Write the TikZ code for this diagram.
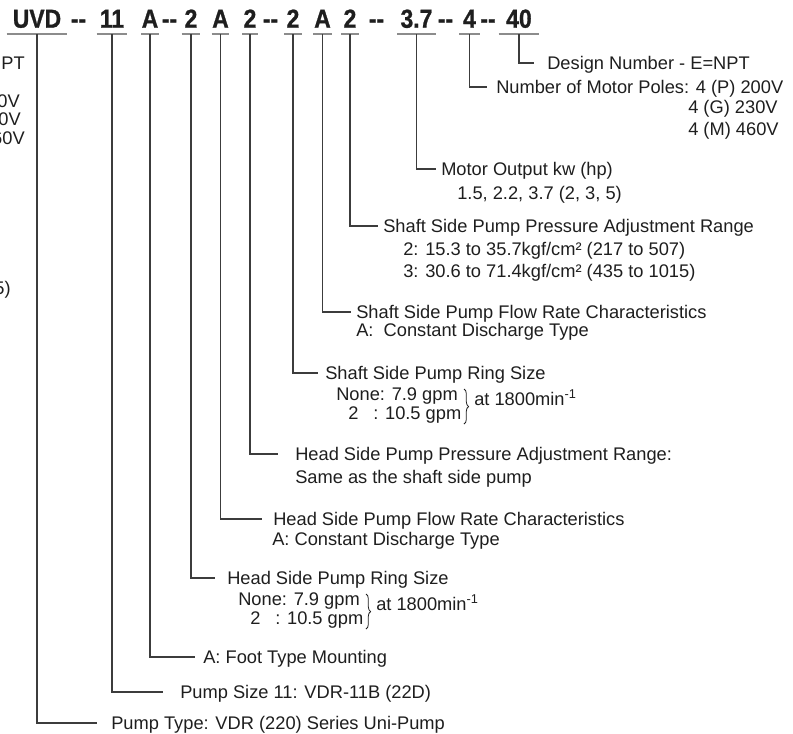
\documentclass[tikz,border=0pt]{standalone}
\usepackage{fontspec}
\setmainfont{Liberation Sans}
\newfontfamily\partfont{Liberation Sans}[FakeStretch=0.88, BoldFeatures={FakeBold=1}]
\usetikzlibrary{decorations.pathreplacing}
\definecolor{inkc}{HTML}{1E1E1E}
\definecolor{linec}{HTML}{3C3C3C}
\definecolor{barc}{HTML}{8C8C8C}
\tikzset{
  seg/.style={anchor=base, inner xsep=0pt, inner ysep=4.7pt, minimum width=#1,
    text height=13.3pt, text depth=0pt, text=inkc,
    font=\partfont\bfseries\fontsize{19.5}{20}\selectfont},
  hyph/.style={anchor=base, inner sep=0pt, text=inkc,
    font=\partfont\bfseries\fontsize{19.5}{20}\selectfont},
  desc/.style={anchor=west, inner sep=0pt, text height=9.5pt, text depth=0pt,
    text=inkc, font=\fontsize{13.7}{16.3}\selectfont},
  more/.style={anchor=base west, inner sep=0pt, align=left, text=inkc,
    font=\fontsize{13.7}{16.3}\selectfont},
  cut/.style={anchor=base east, inner sep=0pt, text=inkc,
    font=\fontsize{13.7}{16.3}\selectfont},
  bar/.style={draw=barc, line width=1.5pt},
  link/.style={draw=linec, line width=0.8pt},
  curly/.style={draw=inkc, line width=0.6pt, decorate, decoration={brace, amplitude=3.5pt}}
}
\begin{document}
\begin{tikzpicture}[x=0.75pt,y=0.75pt,yscale=-1,xscale=1]
\useasboundingbox (0,0) rectangle (793,733);

%Model code
\node[seg=45pt] (p1) at (37,27.7) {UVD};
\node[hyph] (h1) at (78.5,27.7) {-{}-};
\node[seg=22.5pt] (p2) at (112,27.7) {11};
\node[seg=12pt] (p3) at (150,27.7) {A};
\node[hyph] (h2) at (169.5,27.7) {-{}-};
\node[seg=13.5pt] (p4) at (191,27.7) {2};
\node[seg=12.75pt] (p5) at (220.5,27.7) {A};
\node[seg=11.25pt] (p6) at (250,27.7) {2};
\node[hyph] (h3) at (270.5,27.7) {-{}-};
\node[seg=12.75pt] (p7) at (293,27.7) {2};
\node[seg=13.5pt] (p8) at (322.5,27.7) {A};
\node[seg=12.75pt] (p9) at (350,27.7) {2};
\node[hyph] (h4) at (376.5,27.7) {-{}-};
\node[seg=28.5pt] (p10) at (416.5,27.7) {3.7};
\node[hyph] (h5) at (445.5,27.7) {-{}-};
\node[seg=15pt] (p11) at (469.5,27.7) {4};
\node[hyph] (h6) at (488,27.7) {-{}-};
\node[seg=30pt] (p12) at (519,27.7) {40};

%Underlines
\foreach \p in {p1,p2,p3,p4,p5,p6,p7,p8,p9,p10,p11,p12}
  \draw[bar] (\p.south west) -- (\p.south east);

%Descriptions
\node[desc] (d1) at (111,723) {Pump Type: VDR (220) Series Uni-Pump};
\node[desc] (d2) at (180,692) {Pump Size 11: VDR-11B (22D)};
\node[desc] (d3) at (203,657) {A: Foot Type Mounting};
\node[desc] (d4) at (227,578) {Head Side Pump Ring Size};
\node[desc] (d5) at (273,519) {Head Side Pump Flow Rate Characteristics};
\node[desc] (d6) at (295,454) {Head Side Pump Pressure Adjustment Range:};
\node[desc] (d7) at (325,373) {Shaft Side Pump Ring Size};
\node[desc] (d8) at (356,312) {Shaft Side Pump Flow Rate Characteristics};
\node[desc] (d9) at (383,226) {Shaft Side Pump Pressure Adjustment Range};
\node[desc] (d10) at (441,169) {Motor Output kw (hp)};
\node[desc] (d11) at (496,87) {Number of Motor Poles: 4 (P) 200V};
\node[desc] (d12) at (547,63) {Design Number - E=NPT};

%Detail lines (base is the last line)
\node[more] (m5) at (272,545) {A: Constant Discharge Type};
\node[more] (m6) at (295,483) {Same as the shaft side pump};
\node[more] (m8) at (356,336) {A:\ \ Constant Discharge Type};
\node[more] (m9) at (403,277) {2: 15.3 to 35.7kgf/cm² (217 to 507)\\3: 30.6 to 71.4kgf/cm² (435 to 1015)};
\node[more] (m10) at (457,199) {1.5, 2.2, 3.7 (2, 3, 5)};
\node[more] (m11) at (688,135) {4 (G) 230V\\4 (M) 460V};

%Ring sizes, head side
\node[more] (hn) at (238,605) {None: 7.9 gpm};
\node[more] (ht) at (250,624) {2};
\node[more] (hc) at (275,624) {: 10.5 gpm};
\draw[curly] (366,594) -- (366,629);
\node[more] (hr) at (376,610) {at 1800min\textsuperscript{-1}};

%Ring sizes, shaft side
\node[more] (sn) at (336,400) {None: 7.9 gpm};
\node[more] (st) at (348,419) {2};
\node[more] (sc) at (373,419) {: 10.5 gpm};
\draw[curly] (464,389) -- (464,424);
\node[more] (sr) at (474,405) {at 1800min\textsuperscript{-1}};

%Left column, cut at the edge
\node[cut] (l1) at (25,69) {E=NPT};
\node[cut] (l2) at (20,107) {4 (P) 200V};
\node[cut] (l3) at (21,125) {4 (G) 230V};
\node[cut] (l4) at (25,144) {4 (M) 460V};
\node[cut] (l5) at (11,294) {(2, 3, 5)};

%Leader lines
\draw[link, shorten >=10.5pt] (p1.south) |- (d1.west);
\draw[link, shorten >=12.75pt] (p2.south) |- (d2.west);
\draw[link, shorten >=6pt] (p3.south) |- (d3.west);
\draw[link, shorten >=9pt] (p4.south) |- (d4.west);
\draw[link, shorten >=8.25pt] (p5.south) |- (d5.west);
\draw[link, shorten >=12.75pt] (p6.south) |- (d6.west);
\draw[link, shorten >=5.25pt] (p7.south) |- (d7.west);
\draw[link, shorten >=3.75pt] (p8.south) |- (d8.west);
\draw[link, shorten >=3.75pt] (p9.south) |- (d9.west);
\draw[link, shorten >=3.75pt] (p10.south) |- (d10.west);
\draw[link, shorten >=6.75pt] (p11.south) |- (d11.west);
\draw[link, shorten >=9.75pt] (p12.south) |- (d12.west);

\end{tikzpicture}
\end{document}
